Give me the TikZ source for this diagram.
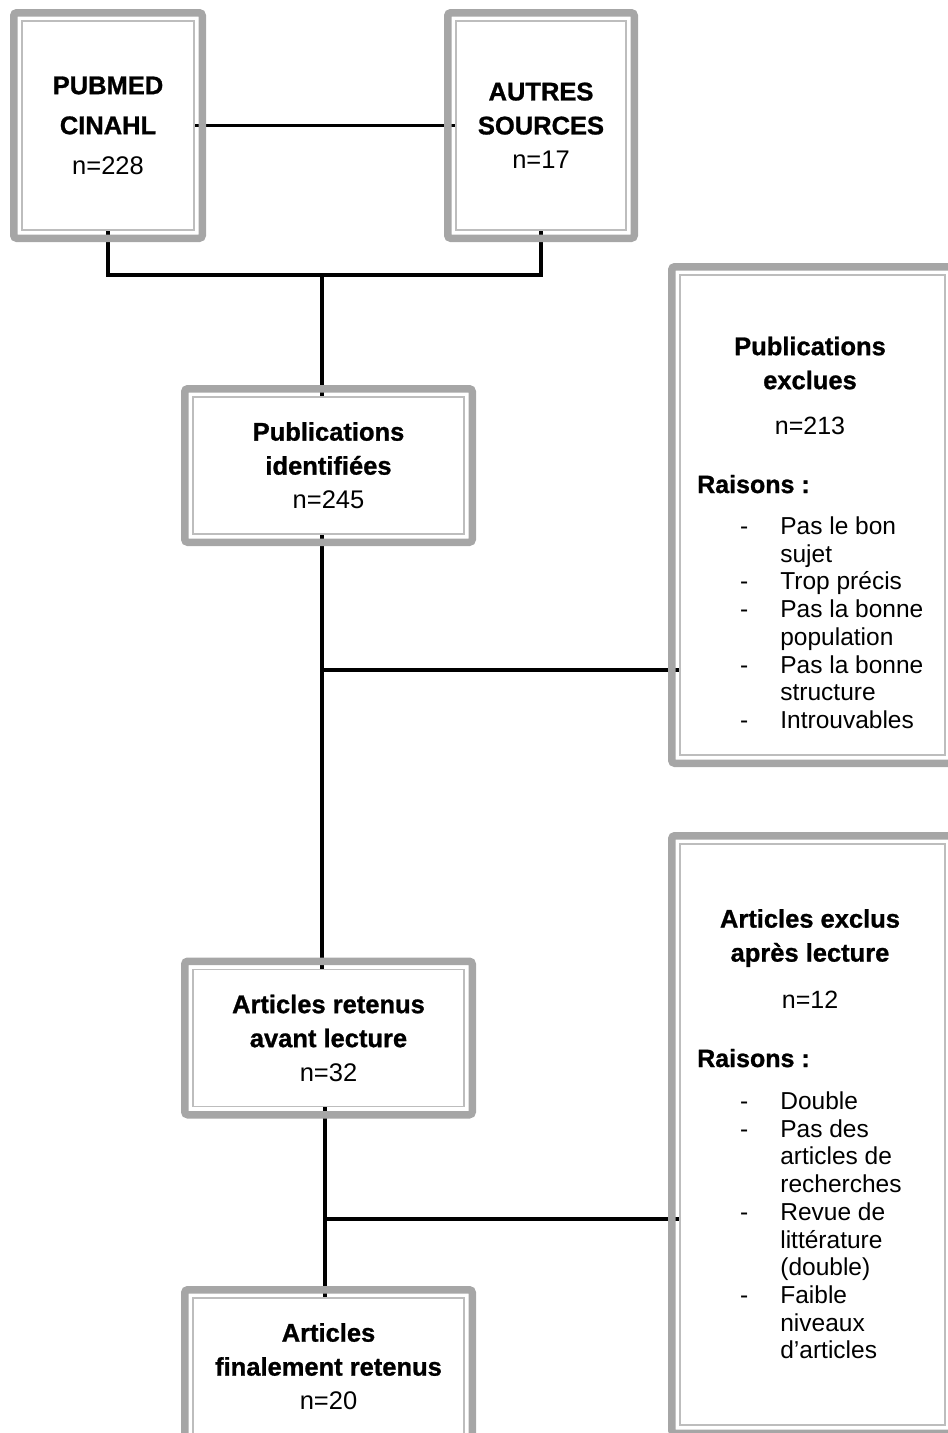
\documentclass[tikz,border=0pt]{standalone}
\usepackage{fontspec}
\setmainfont{Liberation Sans}[BoldFeatures={FakeBold=1}]
\usetikzlibrary{calc,positioning}
\pgfdeclarelayer{bg}\pgfsetlayers{bg,main}
\definecolor{frameout}{HTML}{A6A6A6}
\definecolor{framein}{HTML}{BDBDBD}
\tikzset{
  box/.style={draw=framein,line width=1.2pt,fill=white,inner sep=0pt,outer sep=0pt,align=center,font=\fontsize{25.5}{34}\selectfont},
  frame/.style={draw=frameout,line width=7.5pt,rounded corners=3pt},
  link/.style={line width=3.2pt},
  title/.style={inner sep=0pt,align=center,font=\bfseries\fontsize{25.5}{34}\selectfont},
  count/.style={inner sep=0pt,font=\fontsize{25}{34}\selectfont},
  item/.style={inner sep=0pt,anchor=base west,font=\fontsize{24.5}{27.7}\selectfont},
}
\begin{document}
\begin{tikzpicture}[x=1pt,y=1pt]
\useasboundingbox(0,0)rectangle(948,-1433);\clip(0,0)rectangle(948,-1433);
% boxes of the left column
\node[box,minimum width=172,minimum height=209,font=\fontsize{25.5}{40}\selectfont](pubmed)at(108,-125.5){\textbf{PUBMED}\\\textbf{CINAHL}\\n=228};
\node[box,minimum width=170,minimum height=209](autres)at(541,-125.5){\textbf{AUTRES}\\\textbf{SOURCES}\\n=17};
\node[box,minimum width=271,minimum height=137](ident)at(328.5,-465.5){\textbf{Publications}\\\textbf{identifiées}\\n=245};
\node[box,minimum width=271,minimum height=137](avant)at(328.5,-1038){\textbf{Articles retenus}\\\textbf{avant lecture}\\n=32};
\node[box,minimum width=271,minimum height=137](final)at(328.5,-1366.5){\textbf{Articles}\\\textbf{finalement retenus}\\n=20};
% boxes of the right column
\node[box,minimum width=265,minimum height=480](exclues)at(812.5,-515){};
\node[box,minimum width=265,minimum height=581](exclus)at(812.5,-1134.5){};
\foreach\n in{pubmed,autres,ident,avant,final,exclues,exclus}\draw[frame]($(\n.south west)+(-8.25,-8.25)$)rectangle($(\n.north east)+(8.25,8.25)$);
% texts of the right column
\node[title](t1)at(810,-363){Publications\\exclues};\node[count](n1)at(810,-426){n=213};
\node[item,font=\bfseries\fontsize{25}{34}\selectfont](r1)at(697,-493){Raisons :};
\node[item](l1)at(740,-534.5){\begin{tabular}[t]{@{}l@{\hspace{32pt}}l@{}}-&Pas le bon\\&sujet\\-&Trop précis\\-&Pas la bonne\\&population\\-&Pas la bonne\\&structure\\-&Introuvables\end{tabular}};
\node[title](t2)at(810,-938){Articles exclus\\après lecture};\node[count](n2)at(810,-1000){n=12};
\node[item,font=\bfseries\fontsize{25}{34}\selectfont](r2)at(697,-1067){Raisons :};
\node[item](l2)at(740,-1109.5){\begin{tabular}[t]{@{}l@{\hspace{32pt}}l@{}}-&Double\\-&Pas des\\&articles de\\&recherches\\-&Revue de\\&littérature\\&(double)\\-&Faible\\&niveaux\\&d'articles\end{tabular}};
% connectors
\coordinate(j1)at(322,-275);\coordinate(j2)at(322,-670);\coordinate(j3)at(325,-1219);
\begin{pgfonlayer}{bg}
\draw[link](pubmed.east)--(pubmed.east-|autres.west);
\draw[link](pubmed.south)|-(j1)-|(autres.south);\draw[link](j1)--(j1|-ident.north);
\draw[link](j2|-ident.south)--(j2|-avant.north);\draw[link](j2)--(j2-|exclues.west);
\draw[link](j3|-avant.south)--(j3|-final.north);\draw[link](j3)--(j3-|exclus.west);
\end{pgfonlayer}
\end{tikzpicture}
\end{document}
